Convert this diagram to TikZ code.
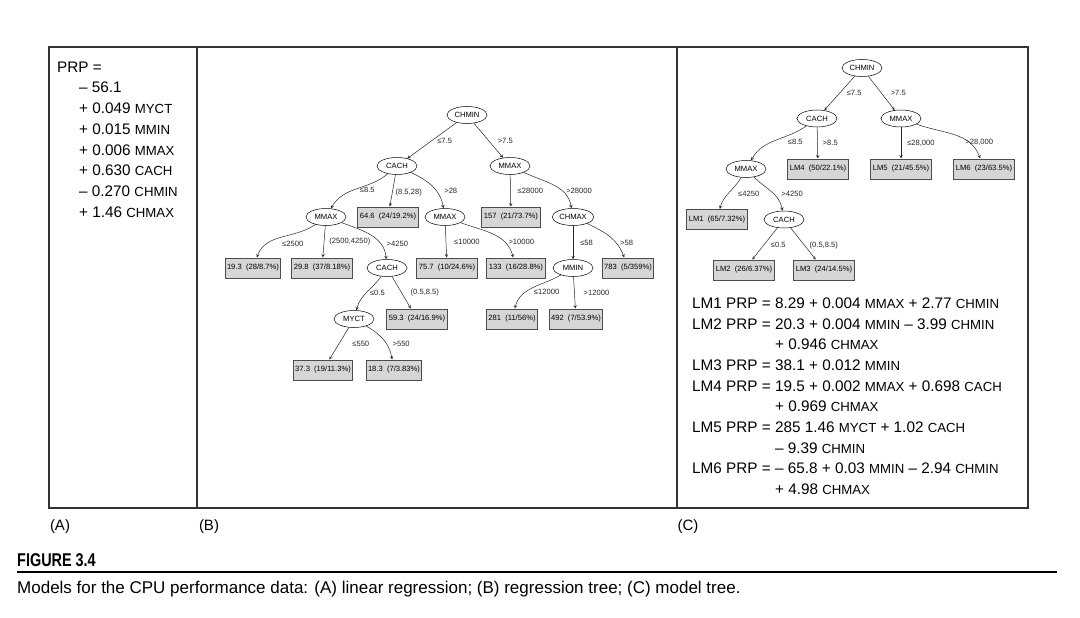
\documentclass[tikz,border=0pt]{standalone}
\usepackage{fontspec}
\setmainfont{Liberation Sans}
\newfontfamily\capfont{Liberation Sans}
\newfontfamily\figfont[FakeStretch=0.78]{Liberation Sans}
\usepackage{tikz}
\usetikzlibrary{shapes.geometric, arrows}
\newcommand{\vn}[1]{{\fontsize{13.2}{20.7}\selectfont #1}}
\tikzstyle{test} = [ellipse, 
draw=black, 
line width=0.5pt, 
fill=white, 
minimum width=40pt, 
minimum height=17pt, 
inner sep=1pt, 
font=\fontsize{7.6}{9}\selectfont]
\tikzstyle{leaf} = [rectangle, 
draw=black!70, 
line width=1pt, 
fill=black!16, 
minimum height=20pt, 
inner sep=2pt, 
font=\fontsize{7.6}{9}\selectfont]
\tikzstyle{lbl} = [inner sep=1pt, font=\fontsize{7.6}{9}\selectfont]
\tikzstyle{eqn} = [anchor=north west, 
inner sep=0pt, 
align=left, 
font=\fontsize{15.3}{20.7}\selectfont]
\tikzstyle{tag} = [inner sep=0pt, font=\fontsize{15}{17}\selectfont]
\tikzstyle{panel} = [line width=1.2pt, draw=black!80]
\tikzstyle{arrow} = [->,>=stealth, line width=0.5pt, black!85]

\begin{document}
\begin{tikzpicture}[x=1pt, y=-1pt, node distance=51pt]
\useasboundingbox (0,0) rectangle (1080,618);

% panels
\draw [panel] (49,47) rectangle (1028,508);
\draw [panel] (197,47) -- (197,508);
\draw [panel] (677,47) -- (677,508);

% (A) linear regression
\node (eqA) [eqn] at (57,61.5) {PRP =\\
\hspace*{22pt}-- 56.1\\
\hspace*{22pt}+ 0.049 \vn{MYCT}\\
\hspace*{22pt}+ 0.015 \vn{MMIN}\\
\hspace*{22pt}+ 0.006 \vn{MMAX}\\
\hspace*{22pt}+ 0.630 \vn{CACH}\\
\hspace*{22pt}-- 0.270 \vn{CHMIN}\\
\hspace*{22pt}+ 1.46 \vn{CHMAX}};

% (B) regression tree
\node (chminB) [test] at (467,115) {CHMIN};

\node (cachB) [test, below of=chminB, xshift=-70pt] {CACH};
\draw [arrow] (chminB) -- node[lbl, right=4pt] {≤7.5} (cachB);

\node (mmaxrB) [test, below of=chminB, xshift=43pt] {MMAX};
\draw [arrow] (chminB) -- node[lbl, right=8pt] {>7.5} (mmaxrB);

\node (mmaxlB) [test, below of=cachB, xshift=-71pt] {MMAX};
\draw [arrow] (cachB) to[out=220, in=60] node[lbl, pos=0.55, right=5pt] {≤8.5} (mmaxlB);

\node (leafB646) [leaf, below of=cachB, xshift=-9pt] {64.6~~(24/19.2\%)};
\draw [arrow] (cachB) -- node[lbl, pos=0.55, right=2pt] {(8.5,28)} (leafB646);

\node (mmaxmB) [test, below of=cachB, xshift=48pt] {MMAX};
\draw [arrow] (cachB) to[out=-25, in=100] node[lbl, pos=0.62, right=7pt] {>28} (mmaxmB);

\node (leafB157) [leaf, below of=mmaxrB, xshift=1pt] {157~~(21/73.7\%)};
\draw [arrow] (mmaxrB) -- node[lbl, right=6pt] {≤28000} (leafB157);

\node (chmaxB) [test, below of=mmaxrB, xshift=63pt] {CHMAX};
\draw [arrow] (mmaxrB) to[out=-25, in=100] node[lbl, pos=0.62, right=5pt, yshift=-2pt] {>28000} (chmaxB);

\node (leafB193) [leaf, below of=mmaxlB, xshift=-73pt] {19.3~~(28/8.7\%)};
\draw [arrow] (mmaxlB) to[out=215, in=70] node[lbl, pos=0.62, right=7pt, yshift=-4pt] {≤2500} (leafB193);

\node (leafB298) [leaf, below of=mmaxlB, xshift=-4pt] {29.8~~(37/8.18\%)};
\draw [arrow] (mmaxlB) -- node[lbl, right=4pt] {(2500,4250)} (leafB298);

\node (cachlB) [test, below of=mmaxlB, xshift=61pt] {CACH};
\draw [arrow] (mmaxlB) to[out=-20, in=95] node[lbl, pos=0.72, right=5pt] {>4250} (cachlB);

\node (leafB757) [leaf, below of=mmaxmB, xshift=2pt] {75.7~~(10/24.6\%)};
\draw [arrow] (mmaxmB) -- node[lbl, right=7pt] {≤10000} (leafB757);

\node (leafB133) [leaf, below of=mmaxmB, xshift=71pt] {133~~(16/28.8\%)};
\draw [arrow] (mmaxmB) to[out=-20, in=105] node[lbl, pos=0.72, right=3pt] {>10000} (leafB133);

\node (mminB) [test, below of=chmaxB] {MMIN};
\draw [arrow] (chmaxB) -- node[lbl, right=6pt] {≤58} (mminB);

\node (leafB783) [leaf, below of=chmaxB, xshift=55pt] {783~~(5/359\%)};
\draw [arrow] (chmaxB) to[out=-25, in=110] node[lbl, pos=0.68, right=3pt] {>58} (leafB783);

\node (mycB) [test, below of=cachlB, xshift=-33pt] {MYCT};
\draw [arrow] (cachlB) to[out=235, in=75] node[lbl, right=2pt] {≤0.5} (mycB);

\node (leafB593) [leaf, below of=cachlB, xshift=30pt] {59.3~~(24/16.9\%)};
\draw [arrow] (cachlB) -- node[lbl, right=8pt] {(0.5,8.5)} (leafB593);

\node (leafB281) [leaf, below of=mminB, xshift=-61pt] {281~~(11/56\%)};
\draw [arrow] (mminB) to[out=210, in=75] node[lbl, pos=0.65, right=7pt] {≤12000} (leafB281);

\node (leafB492) [leaf, below of=mminB, xshift=3pt] {492~~(7/53.9\%)};
\draw [arrow] (mminB) -- node[lbl, right=8pt] {>12000} (leafB492);

\node (leafB373) [leaf, below of=mycB, xshift=-31pt] {37.3~~(19/11.3\%)};
\draw [arrow] (mycB) -- node[lbl, right=12pt] {≤550} (leafB373);

\node (leafB183) [leaf, below of=mycB, xshift=40pt] {18.3~~(7/3.83\%)};
\draw [arrow] (mycB) to[out=-30, in=100] node[lbl, pos=0.62, right=5pt] {>550} (leafB183);

% (C) model tree
\node (chminC) [test] at (862,68) {CHMIN};

\node (cachC) [test, below of=chminC, node distance=50.5pt, xshift=-45pt] {CACH};
\draw [arrow] (chminC) -- node[lbl, right=6pt] {≤7.5} (cachC);

\node (mmaxC) [test, below of=chminC, node distance=50.5pt, xshift=39pt] {MMAX};
\draw [arrow] (chminC) -- node[lbl, right=8pt] {>7.5} (mmaxC);

\node (mmaxlC) [test, below of=cachC, node distance=50.5pt, xshift=-71pt] {MMAX};
\draw [arrow] (cachC) to[out=215, in=60] node[lbl, pos=0.55, right=14pt] {≤8.5} (mmaxlC);

\node (lm4) [leaf, below of=cachC, node distance=50.5pt, xshift=1pt] {LM4~~(50/22.1\%)};
\draw [arrow] (cachC) -- node[lbl, right=4pt] {>8.5} (lm4);

\node (lm5) [leaf, below of=mmaxC, node distance=50.5pt] {LM5~~(21/45.5\%)};
\draw [arrow] (mmaxC) -- node[lbl, right=5pt] {≤28,000} (lm5);

\node (lm6) [leaf, below of=mmaxC, node distance=50.5pt, xshift=83pt] {LM6~~(23/63.5\%)};
\draw [arrow] (mmaxC) to[out=-20, in=110] node[lbl, pos=0.6, right=3pt, yshift=-5pt] {>28,000} (lm6);

\node (lm1) [leaf, below of=mmaxlC, node distance=50.5pt, xshift=-29pt] {LM1~~(65/7.32\%)};
\draw [arrow] (mmaxlC) to[out=240, in=75] node[lbl, pos=0.55, right=9pt] {≤4250} (lm1);

\node (cachlC) [test, below of=mmaxlC, node distance=50.5pt, xshift=38pt] {CACH};
\draw [arrow] (mmaxlC) to[out=-45, in=100] node[lbl, pos=0.55, right=7pt] {>4250} (cachlC);

\node (lm2) [leaf, below of=cachlC, node distance=50.5pt, xshift=-40pt] {LM2~~(26/6.37\%)};
\draw [arrow] (cachlC) -- node[lbl, pos=0.55, right=6pt] {≤0.5} (lm2);

\node (lm3) [leaf, below of=cachlC, node distance=50.5pt, xshift=40pt] {LM3~~(24/14.5\%)};
\draw [arrow] (cachlC) -- node[lbl, pos=0.55, right=4pt] {(0.5,8.5)} (lm3);

\node (eqC) [eqn] at (692,297.5) {LM1 PRP = 8.29 + 0.004 \vn{MMAX} + 2.77 \vn{CHMIN}\\
LM2 PRP = 20.3 + 0.004 \vn{MMIN} -- 3.99 \vn{CHMIN}\\
\phantom{LM2 PRP = }+ 0.946 \vn{CHMAX}\\
LM3 PRP = 38.1 + 0.012 \vn{MMIN}\\
LM4 PRP = 19.5 + 0.002 \vn{MMAX} + 0.698 \vn{CACH}\\
\phantom{LM4 PRP = }+ 0.969 \vn{CHMAX}\\
LM5 PRP = 285 1.46 \vn{MYCT} + 1.02 \vn{CACH}\\
\phantom{LM5 PRP = }-- 9.39 \vn{CHMIN}\\
LM6 PRP = -- 65.8 + 0.03 \vn{MMIN} -- 2.94 \vn{CHMIN}\\
\phantom{LM6 PRP = }+ 4.98 \vn{CHMAX}};

% panel tags and caption
\node (tagA) [tag] at (60,527) {(A)};
\node (tagB) [tag] at (209,527) {(B)};
\node (tagC) [tag] at (688,527) {(C)};

\node (figno) [anchor=west, inner sep=0pt, font=\figfont\bfseries\fontsize{18.5}{20}\selectfont] at (17,560) {FIGURE 3.4};
\draw [line width=1.6pt] (17,572) -- (1057,572);
\node (caption) [anchor=west, inner sep=0pt, font=\capfont\fontsize{17}{19}\selectfont] at (17,589) {Models for the CPU performance data: (A) linear regression; (B) regression tree; (C) model tree.};

\end{tikzpicture}
\end{document}
